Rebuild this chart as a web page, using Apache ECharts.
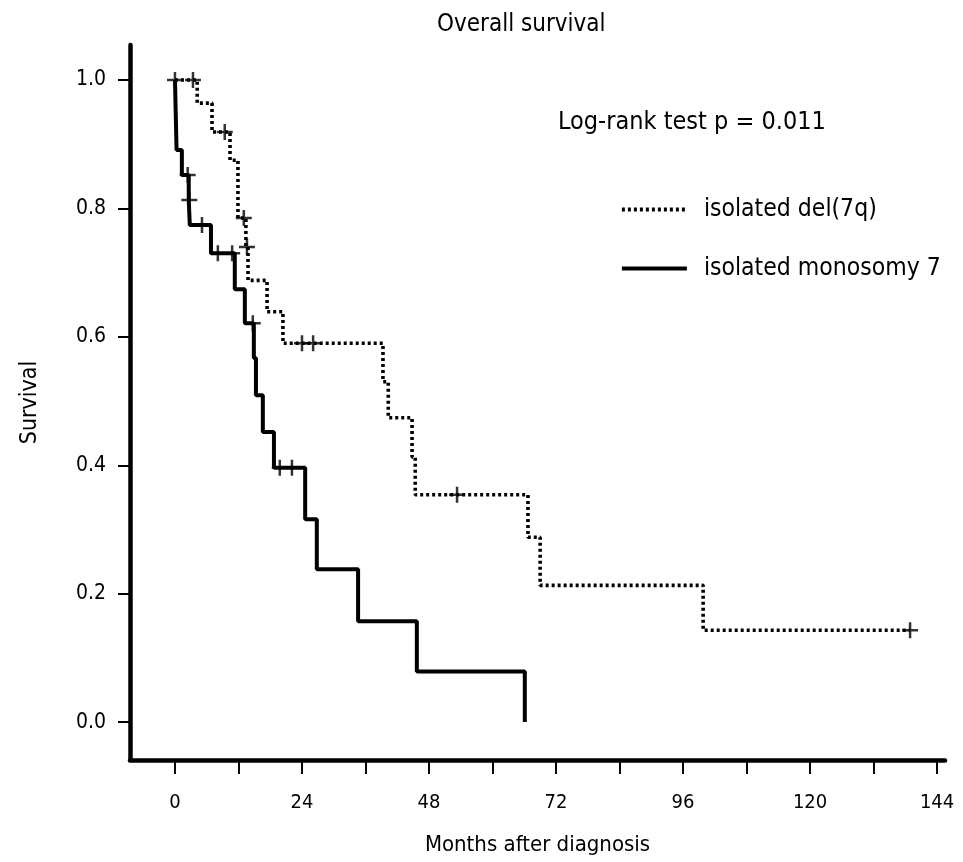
<!DOCTYPE html>
<html>
<head>
<meta charset="utf-8">
<script src="https://cdn.jsdelivr.net/npm/echarts@6/dist/echarts.min.js"></script>
<style>
  html, body { margin: 0; padding: 0; background: #fff; }
  #chart { width: 963px; height: 862px; }
</style>
</head>
<body>
<div id="chart"></div>
<script>
// Kaplan-Meier steps: time of event (months) and survival after it
var monoTime = [0, 0.3, 1.3, 2.6, 2.8, 6.8, 11.3, 13.2, 14.9, 15.3, 16.6, 18.7, 24.6, 26.8, 34.6, 45.7, 66.1];
var monoSurv = [1.0, 0.891, 0.852, 0.813, 0.774, 0.730, 0.674, 0.621, 0.567, 0.509, 0.452, 0.396, 0.316, 0.238, 0.157, 0.079, 0.0];
var monoCensor = [0, 2.4, 2.7, 5.1, 8.1, 10.8, 14.7, 19.8, 22.1];

var delTime = [0, 4.2, 7.0, 10.4, 11.9, 13.4, 13.8, 17.4, 20.4, 39.3, 40.3, 44.8, 45.4, 66.7, 69.0, 99.8, 138.9];
var delSurv = [1.0, 0.964, 0.919, 0.875, 0.785, 0.740, 0.688, 0.639, 0.590, 0.530, 0.474, 0.413, 0.354, 0.288, 0.213, 0.143, 0.143];
var delCensor = [3.4, 9.4, 13.0, 13.6, 24.0, 26.1, 53.3, 138.9];

var xTicks = [0, 12, 24, 36, 48, 60, 72, 84, 96, 108, 120, 132, 144];
var xLabels = [0, 24, 48, 72, 96, 120, 144];
var yTicks = [0, 0.2, 0.4, 0.6, 0.8, 1.0];

var FONT = "'Liberation Sans Narrow', 'DejaVu Sans Condensed', sans-serif";

function pairs(t, s) {
	var out = [];
	for (var i = 0; i < t.length; i++) out.push([t[i], s[i]]);
	return out;
}
// survival value of a step curve at time m
function survAt(t, s, m) {
	var v = s[0];
	for (var i = 0; i < t.length; i++) {
		if (t[i] <= m) v = s[i];
	}
	return v;
}
function censorPoints(t, s, c) {
	return c.map(function (m) { return [m, survAt(t, s, m)]; });
}

var plus = 'path://M0,10L20,10M10,0L10,20';

var myChart = echarts.init(document.getElementById('chart'));
var option = {
	animation: false,
	title: [{
		text: 'Overall survival',
		left: 432,
		top: 8,
		textStyle: { fontFamily: FONT, fontSize: 24, fontWeight: 'normal', color: '#000' }
	}, {
		text: 'Log-rank test p = 0.011',
		left: 553,
		top: 105,
		textStyle: { fontFamily: FONT, fontSize: 25, fontWeight: 'normal', color: '#000' }
	}],
	legend: {
		orient: 'vertical',
		left: 615,
		top: 192,
		itemWidth: 65,
		itemHeight: 20,
		itemGap: 34,
		data: ['isolated del(7q)', 'isolated monosomy 7'],
		itemStyle: { opacity: 0 },
		lineStyle: { width: 3.8 },
		textStyle: { fontFamily: FONT, fontSize: 24.5, color: '#000', padding: [0, 0, 0, 12] }
	},
	grid: { left: 130, right: 18, top: 45, bottom: 102 },
	xAxis: {
		type: 'value',
		min: -8.5,
		max: 145.5,
		name: 'Months after diagnosis',
		nameLocation: 'middle',
		nameGap: 74,
		nameTextStyle: { fontFamily: FONT, fontSize: 22, color: '#000' },
		axisLine: { onZero: false, lineStyle: { color: '#000', width: 4.5 } },
		axisTick: { customValues: xTicks, length: 14, lineStyle: { color: '#000', width: 2 } },
		axisLabel: { customValues: xLabels, margin: 33, fontFamily: FONT, fontSize: 20, color: '#000' },
		splitLine: { show: false }
	},
	yAxis: {
		type: 'value',
		min: -0.059,
		max: 1.0545,
		name: 'Survival',
		nameLocation: 'middle',
		nameGap: 88,
		nameTextStyle: { fontFamily: FONT, fontSize: 23, color: '#000' },
		axisLine: { show: true, onZero: false, lineStyle: { color: '#000', width: 4.5 } },
		axisTick: { show: true, customValues: yTicks, length: 12, lineStyle: { color: '#000', width: 2 } },
		axisLabel: {
			customValues: yTicks, margin: 24, fontFamily: FONT, fontSize: 21, color: '#000',
			formatter: function (v) { return v.toFixed(1); }
		},
		splitLine: { show: false }
	},
	series: [{
		name: 'isolated del(7q)',
		type: 'line',
		step: 'end',
		symbol: 'none',
		data: pairs(delTime, delSurv),
		lineStyle: { color: '#000', width: 3.6, type: [3, 3] },
		itemStyle: { color: '#000' }
	}, {
		name: 'isolated monosomy 7',
		type: 'line',
		step: 'end',
		symbol: 'none',
		data: pairs(monoTime, monoSurv),
		lineStyle: { color: '#000', width: 4, type: 'solid' },
		itemStyle: { color: '#000' }
	}, {
		name: 'del censored',
		type: 'scatter',
		symbol: plus,
		symbolSize: 16,
		data: censorPoints(delTime, delSurv, delCensor),
		itemStyle: { color: 'none', borderColor: '#000', borderWidth: 2.5 }
	}, {
		name: 'mono censored',
		type: 'scatter',
		symbol: plus,
		symbolSize: 16,
		data: censorPoints(monoTime, monoSurv, monoCensor),
		itemStyle: { color: 'none', borderColor: '#000', borderWidth: 2.5 }
	}]
};
myChart.setOption(option, true);
</script>
</body>
</html>
